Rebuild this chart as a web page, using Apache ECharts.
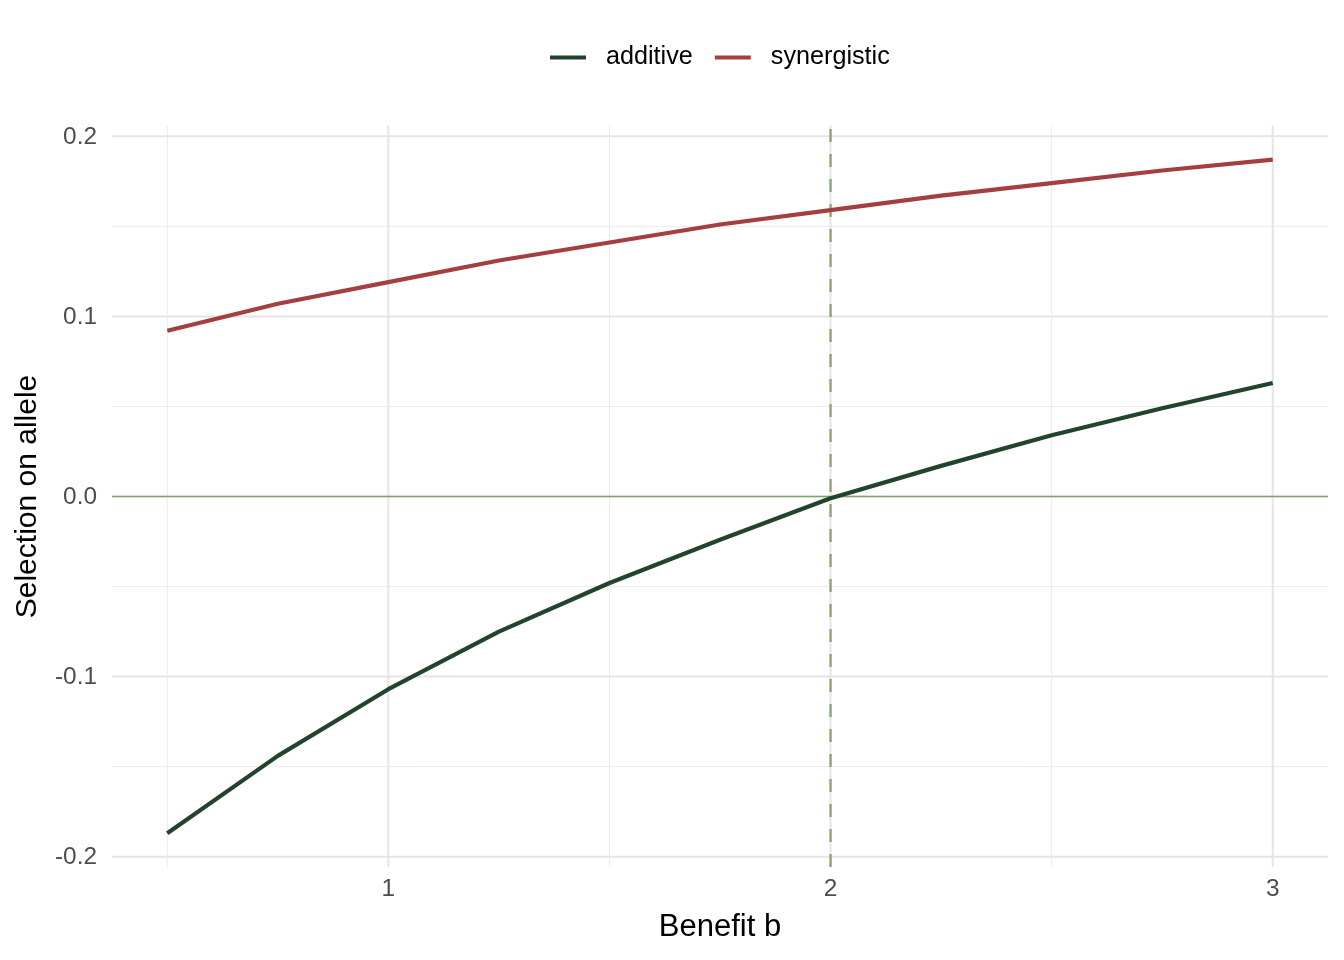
<!DOCTYPE html>
<html>
<head>
<meta charset="utf-8">
<script src="https://cdn.jsdelivr.net/npm/echarts@6/dist/echarts.min.js"></script>
<style>
html,body{margin:0;padding:0;background:#fff;}
#chart{width:1344px;height:960px;}
</style>
</head>
<body>
<div id="chart"></div>
<script>
// ---- data ----
const benefit = [0.5, 0.75, 1.0, 1.25, 1.5, 1.75, 2.0, 2.25, 2.5, 2.75, 3.0];
const additive = [-0.187, -0.144, -0.107, -0.075, -0.048, -0.024, -0.001, 0.017, 0.034, 0.049, 0.063];
const synergistic = [0.092, 0.107, 0.119, 0.131, 0.141, 0.151, 0.159, 0.167, 0.174, 0.181, 0.187];
const seriesNames = ['additive', 'synergistic'];
const xMajor = [1, 2, 3];
const xMajorLabels = ['1', '2', '3'];
const xMinor = [0.5, 1.5, 2.5];
const yMajor = [-0.2, -0.1, 0, 0.1, 0.2];
const yMajorLabels = ['-0.2', '-0.1', '0.0', '0.1', '0.2'];
const yMinor = [-0.15, -0.05, 0.05, 0.15];
const refY = [0];
const refX = [2];

// ---- scales ----
const X_MIN = 0.375, X_MAX = 3.125;
const Y_MIN = -0.2057, Y_MAX = 0.2057;

const FONT = '"Liberation Sans", Arial, Helvetica, sans-serif';
const GRID_MAJOR = '#e5e5e5';
const GRID_MINOR = '#ebebeb';
const REF_COL = '#86a070';
const COLORS = ['#22432c', '#a53f3f'];

function vLine(width, color, dash) {
  return function (params, api) {
    const x = api.value(0);
    const p1 = api.coord([x, Y_MIN]);
    const p2 = api.coord([x, Y_MAX]);
    return {
      type: 'line',
      shape: { x1: p1[0], y1: p1[1], x2: p2[0], y2: p2[1] },
      style: { stroke: color, lineWidth: width, lineDash: dash || null }
    };
  };
}
function hLine(width, color) {
  return function (params, api) {
    const y = api.value(1);
    const p1 = api.coord([X_MIN, y]);
    const p2 = api.coord([X_MAX, y]);
    return {
      type: 'line',
      shape: { x1: p1[0], y1: p1[1], x2: p2[0], y2: p2[1] },
      style: { stroke: color, lineWidth: width }
    };
  };
}
function xLabel(params, api) {
  const x = api.value(0);
  const p = api.coord([x, Y_MIN]);
  return {
    type: 'text',
    x: p[0], y: p[1] + 22,
    style: { text: xMajorLabels[params.dataIndex], fill: '#4d4d4d', font: '24.4px ' + FONT, align: 'center', verticalAlign: 'middle' }
  };
}
function yLabel(params, api) {
  const y = api.value(1);
  const p = api.coord([X_MIN, y]);
  return {
    type: 'text',
    x: p[0] - 15, y: p[1] + 1,
    style: { text: yMajorLabels[params.dataIndex], fill: '#4d4d4d', font: '24.4px ' + FONT, align: 'right', verticalAlign: 'middle' }
  };
}

function custom(data, render, z) {
  return { type: 'custom', data: data, renderItem: render, clip: false, silent: true, z: z, tooltip: { show: false } };
}

const chart = echarts.init(document.getElementById('chart'), null, { renderer: 'canvas' });
chart.setOption({
  animation: false,
  backgroundColor: '#ffffff',
  grid: { left: 112, right: 16, top: 126, bottom: 93, containLabel: false },
  legend: {
    data: seriesNames,
    left: 545, top: 40,
    icon: 'rect', itemWidth: 36, itemHeight: 4, itemGap: 22,
    textStyle: { fontFamily: FONT, fontSize: 25.2, color: '#000000', padding: [0, 0, 0, 15] }
  },
  xAxis: {
    type: 'value', min: X_MIN, max: X_MAX,
    name: 'Benefit b', nameLocation: 'middle', nameGap: 60,
    nameTextStyle: { fontFamily: FONT, fontSize: 31, color: '#000000', verticalAlign: 'middle' },
    axisLine: { show: false }, axisTick: { show: false }, axisLabel: { show: false }, splitLine: { show: false }
  },
  yAxis: {
    type: 'value', min: Y_MIN, max: Y_MAX,
    name: 'Selection on allele', nameLocation: 'middle', nameGap: 84, nameRotate: 90,
    nameTextStyle: { fontFamily: FONT, fontSize: 30, color: '#000000', verticalAlign: 'middle' },
    axisLine: { show: false }, axisTick: { show: false }, axisLabel: { show: false }, splitLine: { show: false }
  },
  series: [
    custom(xMinor.map(v => [v, 0]), vLine(1, GRID_MINOR), 0),
    custom(yMinor.map(v => [X_MIN, v]), hLine(1, GRID_MINOR), 0),
    custom(xMajor.map(v => [v, 0]), vLine(2, GRID_MAJOR), 1),
    custom(yMajor.map(v => [X_MIN, v]), hLine(2, GRID_MAJOR), 1),
    custom(refY.map(v => [X_MIN, v]), hLine(1.5, REF_COL), 2),
    custom(refX.map(v => [v, 0]), vLine(2.2, REF_COL, [13, 12]), 2),
    custom(xMajor.map(v => [v, 0]), xLabel, 3),
    custom(yMajor.map(v => [X_MIN, v]), yLabel, 3),
    {
      name: seriesNames[0], type: 'line', data: benefit.map((b, i) => [b, additive[i]]),
      showSymbol: false, symbol: 'none', lineStyle: { color: COLORS[0], width: 4.2 }, itemStyle: { color: COLORS[0] }, z: 5
    },
    {
      name: seriesNames[1], type: 'line', data: benefit.map((b, i) => [b, synergistic[i]]),
      showSymbol: false, symbol: 'none', lineStyle: { color: COLORS[1], width: 4.2 }, itemStyle: { color: COLORS[1] }, z: 5
    }
  ]
});
</script>
</body>
</html>
